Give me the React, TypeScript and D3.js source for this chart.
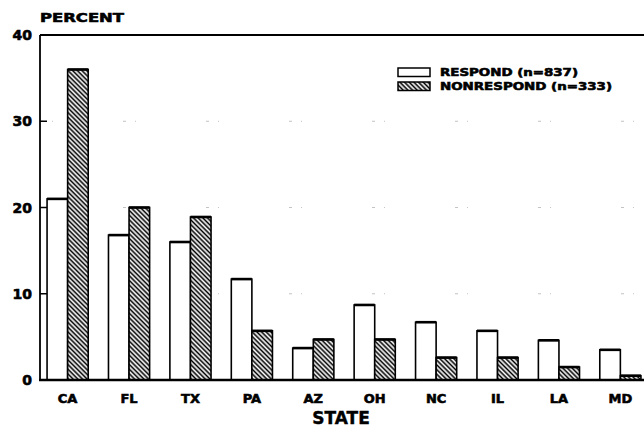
import React from "react";
import * as d3 from "d3";

const states = ["CA", "FL", "TX", "PA", "AZ", "OH", "NC", "IL", "LA", "MD"];
const respond = [21, 16.8, 16, 11.7, 3.7, 8.7, 6.7, 5.7, 4.6, 3.5];
const nonrespond = [36, 20, 18.9, 5.7, 4.7, 4.7, 2.6, 2.6, 1.5, 0.5];
const seriesKeys = ["respond", "nonrespond"];
const seriesLabels = ["RESPOND (n=837)", "NONRESPOND (n=333)"];
const yTicks = [0, 10, 20, 30, 40];
const gridTicks = [10, 20, 30];

const W = 644;
const H = 435;
const FONT = "'DejaVu Sans', 'Liberation Sans', sans-serif";

export default function App() {
  const y = d3.scaleLinear().domain([0, 40]).range([380, 35]);
  const x = d3
    .scaleBand<string>()
    .domain(states)
    .range([40, 648])
    .paddingInner(0.33)
    .paddingOuter(0.115);
  const xs = d3
    .scaleBand<string>()
    .domain(seriesKeys)
    .range([0, x.bandwidth()])
    .padding(0);

  const data = states.map((s, i) => ({
    state: s,
    values: [respond[i], nonrespond[i]],
  }));

  const x0 = 40;
  const x1 = W;
  const heavy = { stroke: "#000", strokeWidth: 0.6, fontWeight: "bold" as const };

  return (
    <svg
      width={W}
      height={H}
      style={{ position: "absolute", left: 0, top: 0, background: "#fff" }}
      fontFamily={FONT}
    >
      <defs>
        <pattern
          id="hatch"
          patternUnits="userSpaceOnUse"
          width={3.3}
          height={3.3}
          patternTransform="rotate(-45)"
        >
          <rect width={3.3} height={3.3} fill="#fff" />
          <line x1={1.2} y1={0} x2={1.2} y2={3.3} stroke="#000" strokeWidth={1.6} />
        </pattern>
      </defs>

      {/* faint grid fragments */}
      {gridTicks.map((t) => (
        <line
          key={"g" + t}
          x1={x0}
          x2={x1}
          y1={y(t)}
          y2={y(t)}
          stroke="#888"
          strokeWidth={1}
          strokeDasharray="3 9 1 70"
          opacity={0.5}
        />
      ))}

      {/* bars */}
      {data.map((d) => (
        <g key={d.state} transform={`translate(${x(d.state)},0)`}>
          {d.values.map((v, j) => {
            const bx = xs(seriesKeys[j])!;
            const bw = xs.bandwidth();
            const top = y(v);
            return (
              <g key={j}>
                <rect
                  x={bx}
                  y={top}
                  width={bw}
                  height={y(0) - top}
                  fill={j === 0 ? "#fff" : "url(#hatch)"}
                  stroke="#000"
                  strokeWidth={1.6}
                />
                <line
                  x1={bx}
                  x2={bx + bw}
                  y1={top}
                  y2={top}
                  stroke="#000"
                  strokeWidth={2.6}
                />
              </g>
            );
          })}
        </g>
      ))}

      {/* axes frame */}
      <line x1={x0} x2={x0} y1={y(40)} y2={y(0)} stroke="#000" strokeWidth={1.8} />
      <line x1={x0} x2={x1} y1={y(40)} y2={y(40)} stroke="#000" strokeWidth={2} />
      <line x1={x0 - 1} x2={x1} y1={y(0)} y2={y(0)} stroke="#000" strokeWidth={2.5} />

      {/* y ticks */}
      {yTicks.map((t) => (
        <g key={"t" + t}>
          {t > 0 && t < 40 && (
            <line x1={x0} x2={x0 + 7} y1={y(t)} y2={y(t)} stroke="#000" strokeWidth={1.5} />
          )}
          <text x={32} y={y(t)} dy="0.36em" textAnchor="end" fontSize={14} {...heavy}>
            {t}
          </text>
        </g>
      ))}

      <text x={40} y={22} fontSize={12.5} textLength={84} lengthAdjust="spacingAndGlyphs" {...heavy}>
        PERCENT
      </text>

      {/* x labels */}
      {states.map((s) => (
        <text
          key={"l" + s}
          x={x(s)! + x.bandwidth() / 2}
          y={398}
          dy="0.36em"
          textAnchor="middle"
          fontSize={13}
          {...heavy}
        >
          {s}
        </text>
      ))}

      <text x={341} y={418} dy="0.36em" textAnchor="middle" fontSize={17} {...heavy} strokeWidth={0.4}>
        STATE
      </text>

      {/* legend */}
      {seriesLabels.map((lab, j) => (
        <g key={"lg" + j} transform={`translate(398,${68 + j * 14})`}>
          <rect
            x={0}
            y={0}
            width={32}
            height={8.5}
            fill={j === 0 ? "#fff" : "url(#hatch)"}
            stroke="#000"
            strokeWidth={1.5}
          />
          <text
            x={42}
            y={4.5}
            dy="0.36em"
            fontSize={10.5}
            textLength={j === 0 ? 138 : 172}
            lengthAdjust="spacingAndGlyphs"
            {...heavy}
          >
            {lab}
          </text>
        </g>
      ))}
    </svg>
  );
}
